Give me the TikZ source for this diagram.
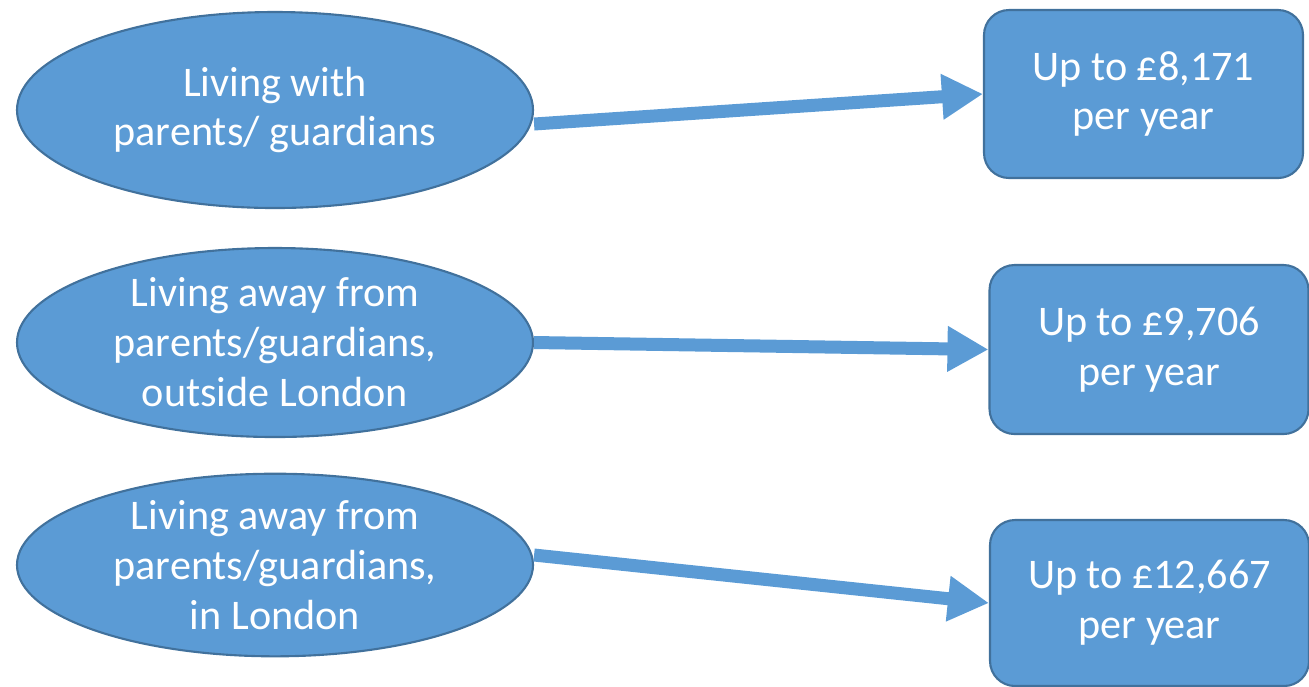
\documentclass[tikz,border=0pt]{standalone}
\usepackage{fontspec}
\setmainfont{Carlito}
\usepackage{tikz}
\usetikzlibrary{arrows.meta, positioning, shapes.geometric}
\usepackage{xcolor}
\definecolor{officeBlue}{HTML}{5B9BD5}
\definecolor{officeEdge}{HTML}{41719C}

\begin{document}
\begin{tikzpicture}[
      font=\fontsize{12}{14.2}\selectfont,
      oval/.style={ellipse, draw=officeEdge, line width=0.6pt, fill=officeBlue,
                   text=white, minimum width=5.16cm, minimum height=#1,
                   inner sep=0pt, align=center},
      amount/.style={draw=officeEdge, line width=0.6pt, fill=officeBlue,
                     text=white, rounded corners=0.25cm, minimum width=3.19cm,
                     minimum height=#1, inner sep=0pt, align=center},
      link/.style={-{Triangle[length=4.1mm, width=4.3mm]}, line width=1.3mm,
                   draw=officeBlue}
    ]
    \useasboundingbox (0,0) rectangle (13.09,-6.86);
    % where the student lives
    \node[oval=1.96cm] (home)   at (2.75,-1.10)  {Living with\\parents/ guardians};
    \node[oval=1.89cm] (away)   at (2.75,-3.425) {Living away from\\parents/guardians,\\outside London};
    \node[oval=1.80cm] (london) at (2.75,-5.65)  {Living away from\\parents/guardians,\\in London};
    % maximum loan
    \node[amount=1.68cm] (homeLoan)   at (11.435,-0.94)  {Up to £8,171\\per year};
    \node[amount=1.69cm] (awayLoan)   at (11.49,-3.495)  {Up to £9,706\\per year};
    \node[amount=1.66cm] (londonLoan) at (11.495,-6.03)  {Up to £12,667\\per year};
    \draw[link] ([yshift=-1.4mm]home.east) -- (homeLoan.west);
    \draw[link] (away.east) -- (awayLoan.west);
    \draw[link] ([yshift=1mm]london.east) -- (londonLoan.west);
  \end{tikzpicture}
\end{document}
